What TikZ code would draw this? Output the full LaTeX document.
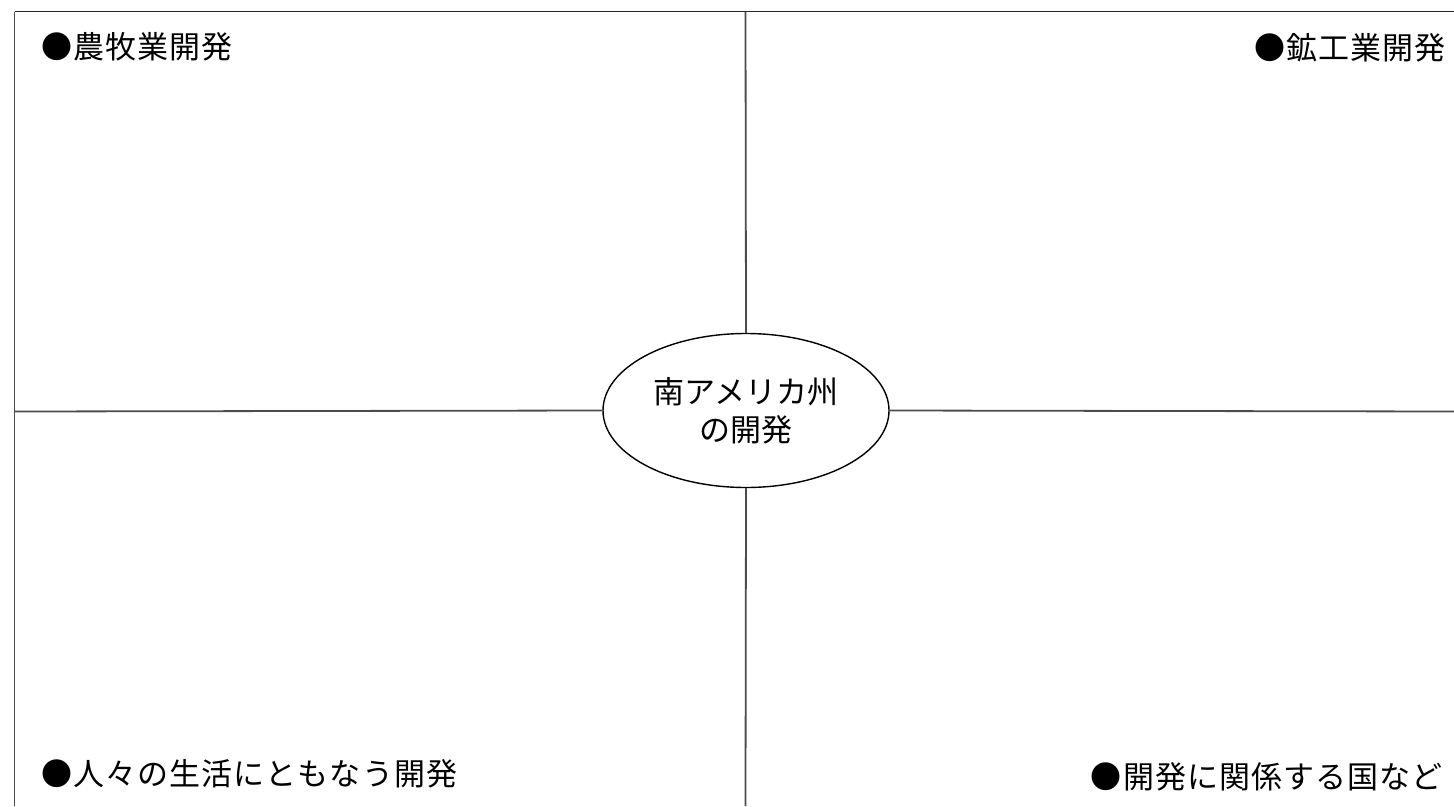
\documentclass[tikz,border=0pt]{standalone}
\usepackage{fontspec}
\setmainfont{Noto Sans CJK JP}
\newfontfamily\widejp[LetterSpace=3.5]{Noto Sans CJK JP}
\usetikzlibrary{shapes.geometric}
\begin{document}
\begin{tikzpicture}[x=1pt,y=-1pt,
  grid/.style={draw=black!70,line width=1.8pt},
  frametop/.style={draw=black!85,line width=1.9pt},
  lbl/.style={inner sep=0pt,font=\widejp\fontsize{31pt}{38pt}\selectfont},
  hub/.style={ellipse,draw=black,line width=1.4pt,minimum width=286pt,minimum height=154pt,inner sep=0pt,align=center,font=\fontsize{31pt}{38pt}\selectfont}]
\useasboundingbox (0,0) rectangle (1454,806);
\fill[white] (0,0) rectangle (1454,806);
\coordinate (tl) at (14.5,11.5);
\coordinate (tr) at (1454,11.5);
\coordinate (bl) at (14.5,806);
\coordinate (ml) at (14.5,411.5);
\coordinate (mr) at (1454,411.5);
\coordinate (mt) at (745.5,11.5);
\coordinate (mb) at (745.5,806);
\node[hub] (c) at (746,410.5) {南アメリカ州\\の開発};
\draw[grid] (tl) -- (bl);
\draw[grid] (ml) -- (c.west);
\draw[grid] (c.east) -- (mr);
\draw[grid] (mt) -- (c.north);
\draw[grid] (c.south) -- (mb);
\draw[frametop] (tl) -- (tr);
\node[lbl,anchor=west] (a) at (41,47) {●農牧業開発};
\node[lbl,anchor=east] (b) at (1446,48) {●鉱工業開発};
\node[lbl,anchor=west] (d) at (41,774) {●人々の生活にともなう開発};
\node[lbl,anchor=east] (e) at (1443,777) {●開発に関係する国など};
\end{tikzpicture}
\end{document}
